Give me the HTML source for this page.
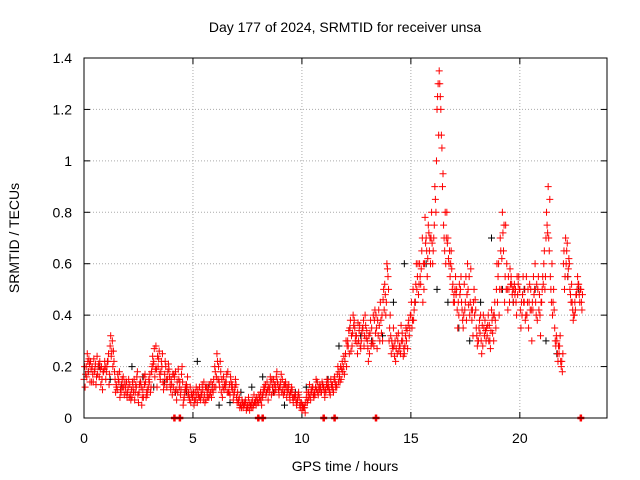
<!DOCTYPE html>
<html><head><meta charset="utf-8"><style>
body{margin:0;background:#fff;}
svg{display:block;font-family:"Liberation Sans",sans-serif;}
</style></head><body>
<svg id="chart" width="640" height="480">
<text x="345" y="32" text-anchor="middle" font-size="14">Day 177 of 2024, SRMTID for receiver unsa</text>
<text x="345" y="471" text-anchor="middle" font-size="14">GPS time / hours</text>
<text transform="translate(19,238) rotate(-90)" text-anchor="middle" font-size="14">SRMTID / TECUs</text>
<g id="grid"></g><g id="ticks"></g><g id="marks"></g>
<rect x="84" y="58" width="523" height="360" fill="none" stroke="#000"/>
</svg>
<script>
const xTicks=[0,5,10,15,20];
const yTicks=[0,0.2,0.4,0.6,0.8,1,1.2,1.4];
const yTickLabels=["0","0.2","0.4","0.6","0.8","1","1.2","1.4"];
const step=0.1;
const seriesA=[.15,.2,.18,.22,.17,.19,.24,.16,.2,.18,
.15,.22,.28,.3,.18,.12,.14,.1,.16,.12,
.1,.13,.08,.15,.12,.06,.14,.11,.17,.09,
.14,.18,.22,.28,.2,.15,.25,.17,.12,.19,
.15,.12,.18,.1,.14,.2,.08,.13,.1,.06,
.08,.1,.06,.12,.09,.14,.07,.11,.1,.13,
.2,.25,.14,.1,.16,.12,.18,.09,.13,.1,
.08,.06,.05,.04,.07,.05,.03,.06,.09,.05,
.06,.1,.08,.12,.14,.1,.09,.15,.11,.13,
.12,.15,.1,.08,.13,.1,.06,.09,.07,.05,
.03,.05,.08,.1,.07,.12,.09,.14,.11,.1,
.12,.1,.14,.09,.13,.16,.12,.18,.15,.2,
.25,.3,.35,.28,.38,.32,.3,.27,.35,.4,
.3,.25,.35,.28,.4,.32,.45,.3,.52,.6,
.3,.25,.35,.22,.3,.28,.33,.25,.3,.38,
.4,.5,.45,.55,.6,.65,.5,.7,.75,.6,
.6,.9,1.2,1.35,1.1,.75,.6,.7,.55,.5,
.45,.5,.4,.55,.35,.45,.6,.4,.38,.5,
.35,.3,.4,.28,.38,.32,.36,.42,.3,.35,
.55,.7,.8,.45,.6,.5,.55,.45,.5,.48,
.5,.4,.45,.55,.35,.5,.42,.6,.38,.48,
.45,.6,.7,.9,.55,.4,.35,.3,.25,.2,
.6,.7,.55,.5,.45,.4,.48,.52,.5];
const seriesB=[.12,.25,.21,.14,.23,.13,.2,.19,.11,.22,
.2,.13,.24,.26,.1,.17,.08,.15,.09,.14,
.15,.07,.12,.1,.18,.13,.05,.16,.08,.12,
.1,.24,.16,.12,.26,.22,.11,.2,.18,.13,
.09,.16,.07,.15,.11,.05,.12,.16,.07,.1,
.05,.12,.09,.07,.11,.06,.1,.13,.08,.15,
.12,.15,.22,.08,.13,.17,.1,.14,.07,.15,
.1,.04,.07,.06,.03,.08,.05,.04,.06,.07,
.08,.05,.12,.09,.07,.16,.12,.1,.18,.09,
.17,.09,.14,.12,.07,.11,.08,.05,.1,.06,
.04,.02,.06,.13,.1,.08,.15,.09,.12,.13,
.08,.15,.11,.13,.1,.12,.2,.14,.22,.17,
.2,.34,.26,.4,.3,.25,.36,.33,.28,.31,
.22,.38,.3,.42,.27,.36,.33,.5,.4,.55,
.4,.28,.24,.32,.26,.36,.24,.32,.27,.35,
.35,.42,.6,.48,.52,.45,.78,.55,.65,.8,
.7,.8,1.3,1.25,.9,.65,.8,.6,.65,.45,
.55,.35,.48,.42,.52,.38,.44,.58,.32,.46,
.28,.38,.25,.35,.3,.4,.27,.33,.45,.6,
.4,.5,.65,.75,.42,.58,.48,.52,.4,.55,
.35,.55,.38,.45,.52,.3,.48,.4,.55,.32,
.55,.5,.75,.65,.45,.5,.28,.22,.32,.18,
.5,.65,.62,.45,.38,.42,.55,.45,.42];
const seriesC=[.2,.16,.23,.19,.14,.21,.17,.22,.15,.19,
.18,.25,.32,.2,.15,.11,.18,.13,.12,.1,
.12,.09,.14,.07,.16,.1,.12,.08,.14,.11,
.17,.2,.27,.19,.23,.18,.14,.22,.15,.16,
.13,.17,.11,.19,.09,.14,.1,.12,.08,.09,
.1,.07,.11,.08,.13,.09,.12,.08,.14,.1,
.18,.22,.12,.15,.11,.14,.1,.16,.11,.12,
.06,.08,.04,.05,.06,.04,.05,.07,.06,.08,
.09,.07,.1,.13,.11,.12,.15,.13,.16,.11,
.14,.11,.13,.1,.09,.12,.08,.07,.09,.04,
.05,.04,.1,.08,.11,.09,.12,.1,.13,.14,
.1,.13,.12,.15,.11,.14,.17,.16,.19,.24,
.3,.28,.38,.33,.35,.29,.34,.3,.38,.36,
.27,.33,.29,.38,.35,.42,.38,.46,.48,.58,
.35,.3,.28,.27,.33,.25,.3,.28,.34,.32,
.45,.38,.52,.6,.55,.7,.6,.65,.72,.7,
.65,.85,1.25,1.3,1.05,.7,.7,.62,.6,.52,
.5,.42,.52,.45,.4,.55,.5,.45,.42,.4,
.32,.35,.3,.4,.34,.36,.3,.38,.4,.5,
.6,.65,.72,.55,.5,.45,.52,.5,.45,.52,
.42,.48,.5,.4,.45,.42,.55,.45,.5,.4,
.5,.65,.8,.7,.5,.45,.3,.25,.28,.22,
.65,.6,.58,.48,.42,.45,.5,.48,.45];
const seriesD=[.17,.22,.14,.2,.18,.16,.21,.13,.18,.2,
.22,.17,.26,.22,.13,.15,.11,.12,.14,.08,
.08,.11,.1,.13,.09,.14,.08,.13,.1,.15,
.12,.21,.19,.24,.17,.2,.13,.15,.21,.11,
.17,.1,.14,.12,.17,.07,.11,.09,.12,.08,
.07,.09,.08,.1,.07,.12,.08,.09,.11,.12,
.16,.2,.18,.12,.14,.1,.13,.12,.09,.13,
.07,.05,.06,.05,.04,.06,.04,.05,.07,.06,
.07,.09,.11,.1,.12,.14,.1,.13,.14,.12,
.1,.13,.12,.11,.1,.08,.09,.06,.08,.06,
.04,.06,.07,.09,.12,.1,.11,.12,.1,.12,
.11,.12,.1,.12,.15,.13,.14,.2,.18,.22,
.28,.25,.32,.36,.32,.37,.28,.35,.32,.34,
.32,.28,.4,.33,.38,.3,.4,.42,.45,.5,
.32,.27,.3,.25,.28,.3,.27,.35,.36,.4,
.38,.45,.5,.52,.58,.6,.68,.62,.7,.68,
.75,1.0,1.1,1.2,.95,.8,.68,.65,.58,.48,
.48,.45,.5,.38,.42,.48,.55,.42,.45,.42,
.3,.33,.36,.32,.35,.3,.34,.4,.38,.45,
.5,.62,.75,.5,.55,.52,.5,.48,.55,.5,
.45,.45,.4,.5,.42,.45,.5,.52,.42,.45,
.52,.55,.72,.85,.6,.42,.32,.28,.22,.25,
.55,.68,.6,.52,.4,.48,.52,.5,.48];
const blackStep=0.5;
const blackVals=[.18,.2,.15,.12,.2,.16,.12,.14,.1,.1,.22,.12,.05,.06,.1,.12,.16,.1,.05,.1,.12,.14,.15,.28,.35,.32,.3,.32,.45,.6,.45,.6,.5,.45,.35,.3,.45,.7,.5,.45,.5,.5,.3,.25,.55,.5];
const zeroTimes=[4.15,4.4,8,8.2,11,11.5,13.4,22.8];
const NS="http://www.w3.org/2000/svg";
const X=t=>84+t*(523/24), Y=v=>418-v*(360/1.4);
const grid=document.getElementById('grid'),ticks=document.getElementById('ticks'),marks=document.getElementById('marks');
function mk(tag,attrs,parent){const e=document.createElementNS(NS,tag);for(const k in attrs)e.setAttribute(k,attrs[k]);parent.appendChild(e);return e;}
xTicks.forEach(t=>{const x=X(t);
 if(t>0){const g=mk('line',{x1:x,x2:x,y1:58,y2:418,stroke:'#aaa','stroke-dasharray':'1,2'},grid);
 
 }
 mk('line',{x1:x,x2:x,y1:418,y2:412,stroke:'#000'},ticks);mk('line',{x1:x,x2:x,y1:58,y2:64,stroke:'#000'},ticks);
 const l=mk('text',{x:x,y:443,'text-anchor':'middle','font-size':'14'},ticks);l.textContent=t;
 
 });
yTicks.forEach((v,i)=>{const y=Y(v);
 if(v>0&&v<1.4){const g=mk('line',{x1:84,x2:607,y1:y,y2:y,stroke:'#aaa','stroke-dasharray':'1,2'},grid);
 
 }
 mk('line',{x1:84,x2:90,y1:y,y2:y,stroke:'#000'},ticks);mk('line',{x1:601,x2:607,y1:y,y2:y,stroke:'#000'},ticks);
 const l=mk('text',{x:72,y:y+5,'text-anchor':'end','font-size':'14'},ticks);l.textContent=yTickLabels[i];
 
 });
function plus(t,v,c,name,w){const x=X(t),y=Y(v);
 const p=mk('path',{d:`M${x-3.5} ${y}h7M${x} ${y-3.5}v7`,stroke:c,'stroke-width':w||1,fill:'none'},marks);
 
 }
blackVals.forEach((v,i)=>plus(i*blackStep+0.2,v,'#000','black-point'));
seriesA.forEach((v,i)=>plus(i*step,v,'#f00','red-point'));
seriesB.forEach((v,i)=>plus(i*step+step/2,v,'#f00','red-point'));
seriesC.forEach((v,i)=>plus(i*step+step/4,v,'#f00','red-point'));
seriesD.forEach((v,i)=>plus(i*step+3*step/4,v,'#f00','red-point'));
zeroTimes.forEach(t=>plus(t,0,'#f00','zero-point',2.5));
</script>
</body></html>
